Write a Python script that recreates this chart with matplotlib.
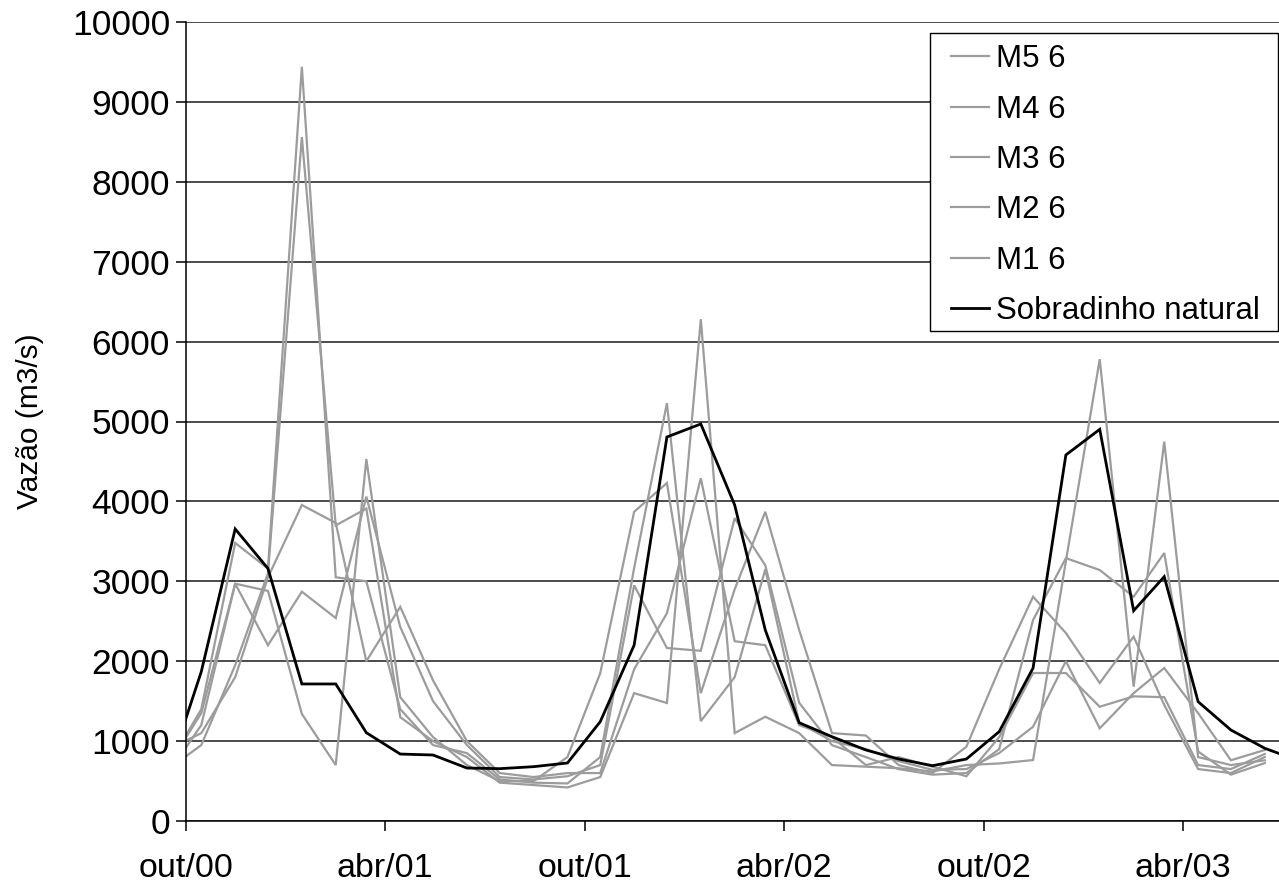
import matplotlib
matplotlib.use("Agg")
import matplotlib.pyplot as plt
from matplotlib.patches import Rectangle
import pandas as pd
import numpy as np

# Monthly flow series (m3/s), mid-month values from Sep/2000 to Jul/2003
months = pd.date_range("2000-09-01", periods=35, freq="MS") + pd.Timedelta(days=14)

sobradinho = [620, 1870, 3655, 3160, 1715, 1715, 1105, 838, 826, 663, 655, 680,
              726, 1243, 2200, 4806, 4969, 3955, 2390, 1230, 1055, 889, 776, 692,
              776, 1118, 1915, 4581, 4902, 2632, 3058, 1493, 1139, 910, 760]

m1 = [700, 1400, 3480, 3160, 9440, 3050, 3000, 1400, 950, 850, 520, 480,
      470, 800, 3165, 5230, 1250, 1800, 3150, 1230, 1000, 900, 750, 640,
      650, 850, 1180, 2000, 1160, 1600, 1915, 1350, 760, 889, np.nan]
m2 = [600, 1200, 2970, 2880, 1340, 700, 4530, 1550, 1050, 700, 500, 500,
      800, 1850, 3870, 4230, 1600, 2900, 3870, 2390, 1100, 1070, 700, 600,
      930, 1900, 2807, 2353, 1727, 2307, 1452, 650, 600, 800, np.nan]
m3 = [700, 1350, 2970, 2200, 2870, 2540, 4060, 2430, 1500, 950, 550, 520,
      560, 700, 2950, 2165, 2130, 3790, 3200, 1480, 950, 800, 650, 580,
      600, 900, 2516, 3290, 3141, 2807, 3354, 870, 580, 725, np.nan]
m4 = [900, 1100, 1800, 3050, 3955, 3730, 2000, 2680, 1760, 1000, 600, 550,
      600, 600, 1900, 2600, 4290, 2250, 2200, 1200, 1050, 700, 800, 680,
      560, 1050, 1852, 1852, 1430, 1560, 1550, 700, 650, 839, np.nan]
m5 = [650, 950, 1950, 3100, 8560, 3700, 3910, 1300, 1000, 800, 480, 450,
      420, 550, 1600, 1477, 6280, 1100, 1305, 1100, 700, 680, 660, 620,
      700, 720, 763, 3250, 5780, 1681, 4748, 800, 700, 760, np.nan]

series_names = ["M5 6", "M4 6", "M3 6", "M2 6", "M1 6", "Sobradinho natural"]
tick_dates = pd.to_datetime(["2000-10-01", "2001-04-01", "2001-10-01",
                             "2002-04-01", "2002-10-01", "2003-04-01"])
tick_labels = ["out/00", "abr/01", "out/01", "abr/02", "out/02", "abr/03"]
y_ticks = list(range(0, 10001, 1000))

plt.rcParams["font.family"] = ["Liberation Sans", "DejaVu Sans"]
XTICK_FS = 24.5
YTICK_FS = 25.5
LEG_FS = 22.5
LABEL_FS = 21.5

fig = plt.figure(figsize=(12.79, 8.86), dpi=100)
ax = fig.add_axes([186 / 1279, 1 - 821 / 886, 1 - 186 / 1279, (821 - 22) / 886])

gray = "#9c9c9c"
for name, vals in zip(series_names[:5], [m5, m4, m3, m2, m1]):
    ax.plot(months, vals, color=gray, lw=1.6, label=name, solid_joinstyle="miter")
ax.plot(months, sobradinho, color="black", lw=2.0, label=series_names[5],
        solid_joinstyle="miter")

x0 = pd.Timestamp("2000-10-01")
ax.set_xlim(x0, x0 + pd.Timedelta(days=1000))
ax.set_ylim(0, 10000)

ax.set_yticks(y_ticks)
ax.set_yticklabels([str(v) for v in y_ticks], fontsize=YTICK_FS)
ax.set_xticks(tick_dates)
ax.set_xticklabels(tick_labels, fontsize=XTICK_FS)
ax.tick_params(axis="both", direction="out", length=7, width=1.1, color="black")
ax.tick_params(axis="y", pad=4.5)
ax.tick_params(axis="x", pad=16)

ax.yaxis.grid(True, color="#1a1a1a", lw=1.1)
ax.set_axisbelow(True)
for s in ["top", "right"]:
    ax.spines[s].set_visible(False)
for s in ["left", "bottom"]:
    ax.spines[s].set_color("black")
    ax.spines[s].set_linewidth(1.1)

ax.set_ylabel("Vazão (m3/s)", fontsize=LABEL_FS, labelpad=20)

# Legend box: white panel with a thin black border, entries placed inside it
ax.add_patch(Rectangle((0.6807, 0.6133), 0.9991 - 0.6807, 0.9862 - 0.6133,
                       transform=ax.transAxes, facecolor="white",
                       edgecolor="black", lw=1.0, zorder=4.5, clip_on=False))
leg = ax.legend(loc="upper left", bbox_to_anchor=(0.700, 0.972),
                borderaxespad=0, borderpad=0, fontsize=LEG_FS, frameon=False,
                handlelength=1.2, handletextpad=0.25, labelspacing=0.65)
leg.set_zorder(5)

fig.savefig("out.png", dpi=100)
